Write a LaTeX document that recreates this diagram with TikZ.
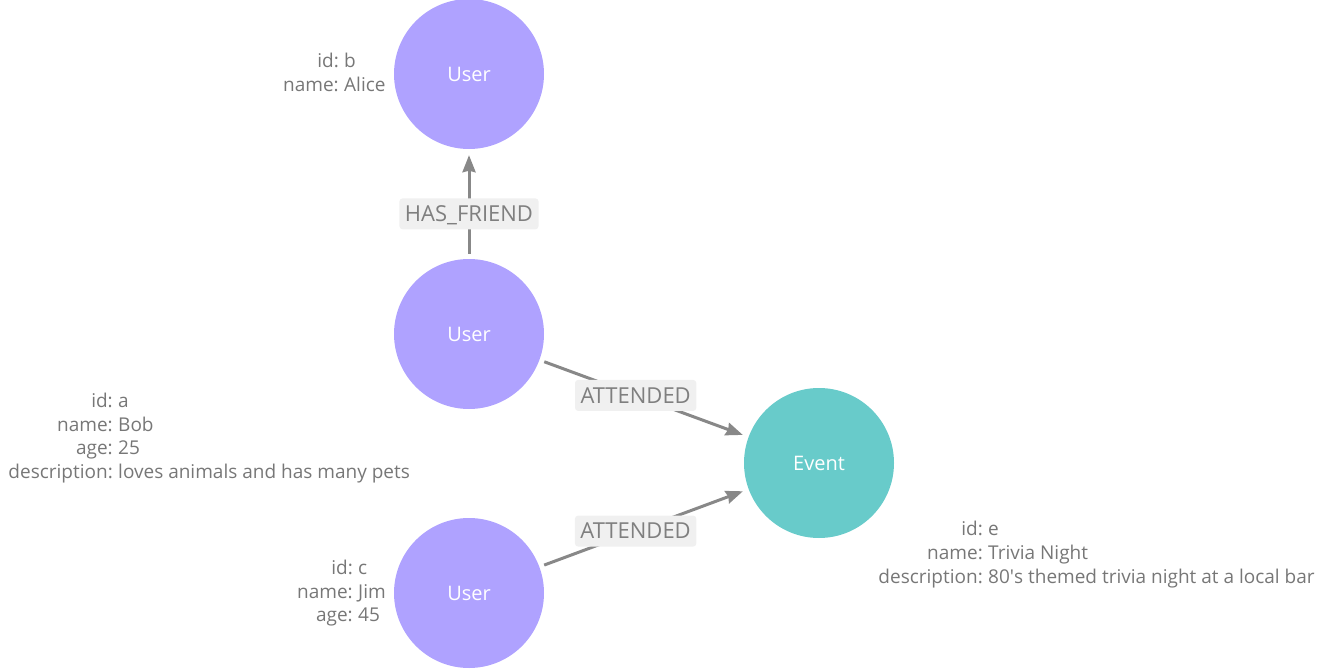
\documentclass[tikz,border=0pt]{standalone}
\usepackage{fontspec}
\setmainfont{Open Sans}
\usetikzlibrary{arrows.meta}
\definecolor{userfill}{HTML}{AFA2FF}
\definecolor{eventfill}{HTML}{68CBCA}
\definecolor{proptext}{HTML}{777777}
\definecolor{edgegray}{HTML}{888888}
\definecolor{labelbg}{HTML}{F0F0F0}
\definecolor{labeltext}{HTML}{7F7F7F}
\begin{document}
\begin{tikzpicture}[x=1pt,y=-1pt,
  vertex/.style={circle, minimum size=150pt, inner sep=0pt, text=white, font=\fontsize{20}{24}\selectfont},
  user/.style={vertex, fill=userfill},
  event/.style={vertex, fill=eventfill},
  edge/.style={draw=edgegray, line width=3pt, -{Stealth[length=17pt,width=13pt,inset=1.5pt]}, shorten <=5pt, shorten >=6pt},
  elabel/.style={fill=labelbg, text=labeltext, rounded corners=3pt, inner xsep=5.5pt, inner ysep=7.6pt, text height=15.7pt, text depth=0pt, font=\fontsize{22}{26}\selectfont},
  pkey/.style={anchor=base east, inner sep=0pt, text=proptext, font=\fontsize{19}{23}\selectfont},
  pval/.style={anchor=base west, inner sep=0pt, text=proptext, font=\fontsize{19}{23}\selectfont},
]
\useasboundingbox (0,0) rectangle (1331,669);

\node[user] (ub) at (469,74) {User};
\node[user] (ua) at (469,334) {User};
\node[user] (uc) at (469,593) {User};
\node[event] (ev) at (819,463) {Event};

\draw[edge] (ua) -- node[elabel, pos=0.41] (l1) {HAS\_FRIEND} (ub);
\draw[edge] (ua) -- node[elabel, pos=0.46] (l2) {ATTENDED} (ev);
\draw[edge] (uc) -- node[elabel, pos=0.46] (l3) {ATTENDED} (ev);

% Alice
\node[pkey] (kb1) at (339,68) {id:};   \node[pval] (vb1) at (344,68) {b};
\node[pkey] (kb2) at (339,92) {name:}; \node[pval] (vb2) at (344,92) {Alice};
% Bob
\node[pkey] (ka1) at (113,407) {id:};   \node[pval] (va1) at (118,407) {a};
\node[pkey] (ka2) at (113,431) {name:}; \node[pval] (va2) at (118,431) {Bob};
\node[pkey] (ka3) at (113,454.5) {age:}; \node[pval] (va3) at (118,454.5) {25};
\node[pkey] (ka4) at (113,478) {description:}; \node[pval] (va4) at (118,478) {loves animals and has many pets};
% Jim
\node[pkey] (kc1) at (353,574) {id:};   \node[pval] (vc1) at (358,574) {c};
\node[pkey] (kc2) at (353,598) {name:}; \node[pval] (vc2) at (358,598) {Jim};
\node[pkey] (kc3) at (353,621) {age:};  \node[pval] (vc3) at (358,621) {45};
% Event
\node[pkey] (ke1) at (983,535) {id:};   \node[pval] (ve1) at (988,535) {e};
\node[pkey] (ke2) at (983,559) {name:}; \node[pval] (ve2) at (988,559) {Trivia Night};
\node[pkey] (ke3) at (983,583) {description:}; \node[pval] (ve3) at (988,583) {80\textquotesingle s themed trivia night at a local bar};
\end{tikzpicture}
\end{document}
